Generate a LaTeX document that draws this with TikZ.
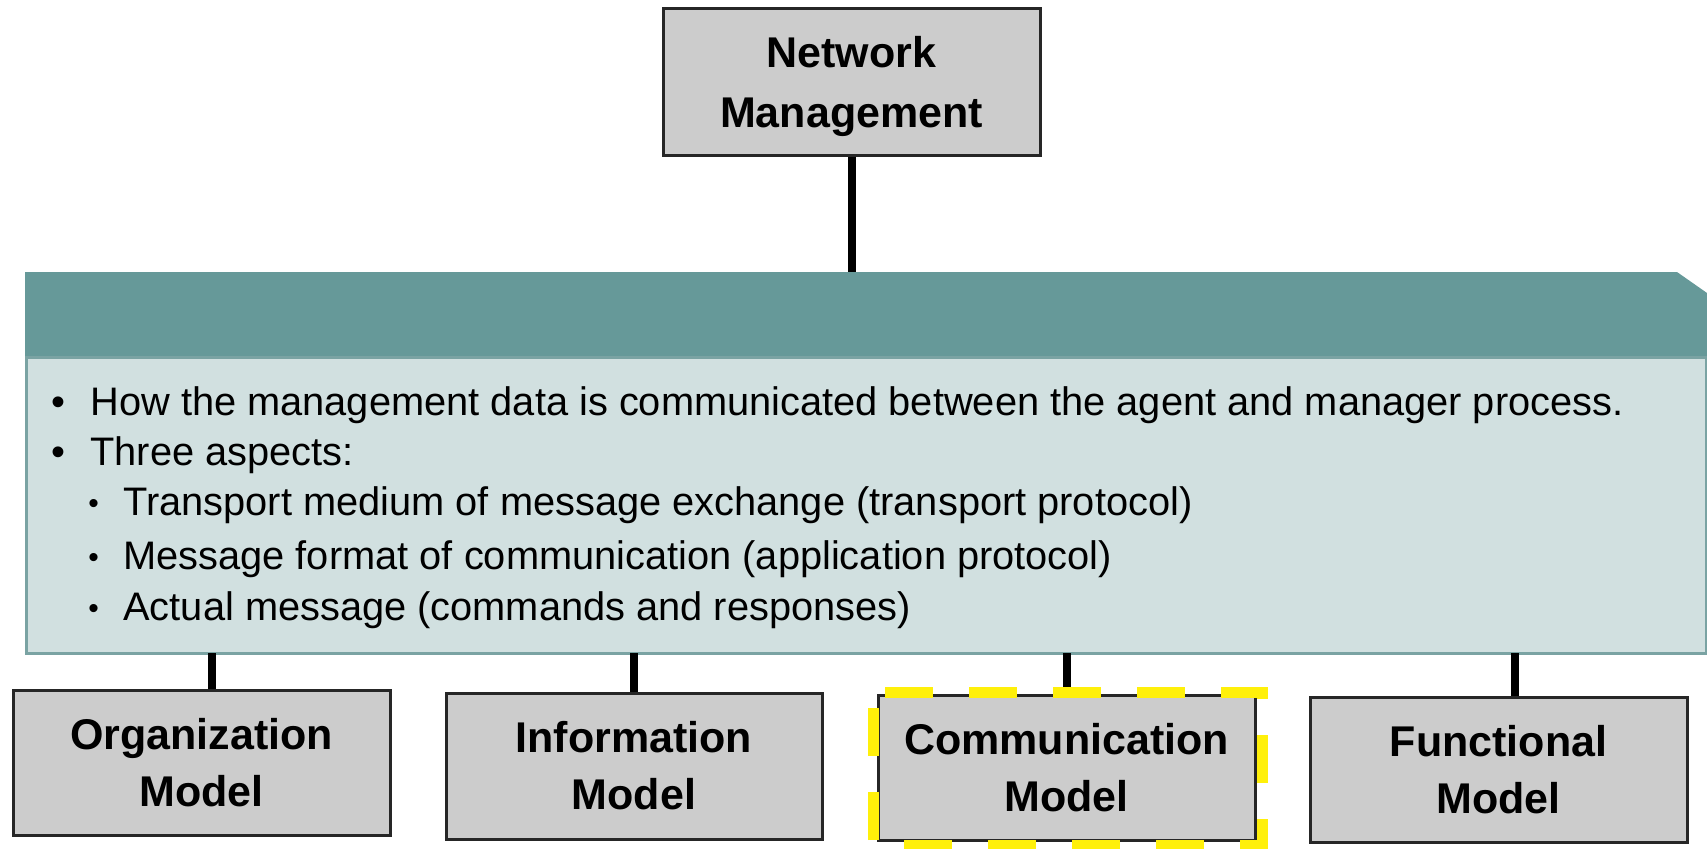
\documentclass[tikz,border=0pt]{standalone}
\usepackage{fontspec}
\setmainfont{Liberation Sans}
\definecolor{teal1}{RGB}{102,153,153}
\definecolor{panelfill}{RGB}{209,224,224}
\definecolor{panelline}{RGB}{122,163,163}
\definecolor{boxgray}{RGB}{204,204,204}
\definecolor{hlyellow}{RGB}{255,240,10}
\newcommand{\subbul}{\makebox[17.5pt][l]{\fontsize{15}{15}\selectfont\raisebox{1pt}{•}}}
\begin{document}
\begin{tikzpicture}[x=0.5pt,y=-0.5pt,
  box/.style={draw=black!85, line width=1.5pt, fill=boxgray, align=center, inner sep=0pt,
    font=\fontsize{21.5}{28.5}\selectfont\bfseries},
  conn/.style={line width=4pt, black},
  txt/.style={anchor=base west, inner sep=0pt, font=\fontsize{19.9}{24}\selectfont},
  hl/.style={draw=hlyellow, line width=5.5pt, dash pattern=on 24pt off 18pt, dash phase=36pt}]
\useasboundingbox (0,0) rectangle (1707,848);
% panel
\fill[teal1] (25,357) -- (25,272) -- (1677,272) -- (1707,293) -- (1707,357) -- cycle;
\draw[panelline, fill=panelfill, line width=1.5pt] (26,357) rectangle (1706,653);
\coordinate (ptop) at (847,272);
\coordinate (pbot) at (847,653);
% text
\node[txt] (l1) at (51,415) {\makebox[19.5pt][l]{•}How the management data is communicated between the agent and manager process.};
\node[txt] (l2) at (51,465) {\makebox[19.5pt][l]{•}Three aspects:};
\node[txt] (l3) at (88,515) {\subbul Transport medium of message exchange (transport protocol)};
\node[txt] (l4) at (88,569) {\subbul Message format of communication (application protocol)};
\node[txt] (l5) at (88,620) {\subbul Actual message (commands and responses)};
% boxes
\node[box, minimum width=188.5pt, minimum height=73.5pt,
  font=\fontsize{21.5}{30}\selectfont\bfseries] (nm) at (851.5,81.5) {\rule{0pt}{20.5pt}Network\\Management};
\node[box, minimum width=188.5pt, minimum height=72.5pt] (org) at (201.5,762.5) {Organization\\Model};
\node[box, minimum width=188pt, minimum height=73pt] (info) at (634,766) {Information\\Model};
\node[box, minimum width=188.5pt, minimum height=72.5pt] (comm) at (1066.5,767.5) {Communication\\Model};
\node[box, minimum width=188.5pt, minimum height=72.5pt] (func) at (1498.5,769.5) {Functional\\Model};
% connectors
\draw[conn] (nm.south) -- (nm.south |- ptop);
\draw[conn] ([xshift=5pt]org.north) -- ([xshift=5pt]org.north |- pbot);
\draw[conn] (info.north) -- (info.north |- pbot);
\draw[conn] (comm.north) -- (comm.north |- pbot);
\draw[conn] ([xshift=8pt]func.north) -- ([xshift=8pt]func.north |- pbot);
% highlight
\draw[hl] (873,692) -- (1262,692) -- (1262,845) -- (873,845) -- cycle;
\end{tikzpicture}
\end{document}
